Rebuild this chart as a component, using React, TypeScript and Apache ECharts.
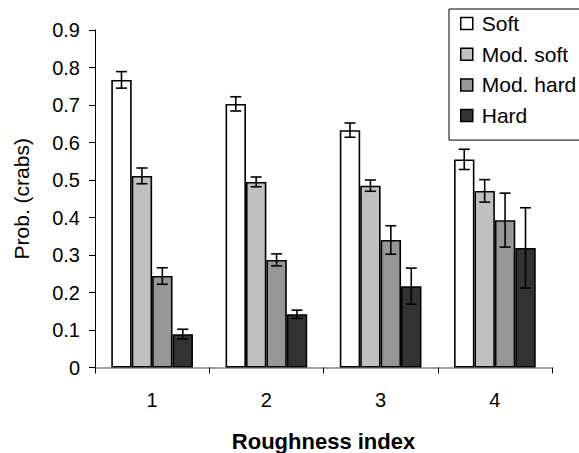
import React, { useEffect, useRef } from "react";
import * as echarts from "echarts";

const categories = ["1", "2", "3", "4"];
const seriesNames = ["Soft", "Mod. soft", "Mod. hard", "Hard"];
const softValues = [0.767, 0.703, 0.633, 0.555];
const softErrors = [0.022, 0.019, 0.019, 0.027];
const modSoftValues = [0.511, 0.495, 0.485, 0.471];
const modSoftErrors = [0.021, 0.013, 0.015, 0.03];
const modHardValues = [0.244, 0.287, 0.34, 0.393];
const modHardErrors = [0.022, 0.016, 0.038, 0.072];
const hardValues = [0.089, 0.142, 0.217, 0.319];
const hardErrors = [0.013, 0.011, 0.048, 0.107];
const colors = ["#ffffff", "#c0c0c0", "#969696", "#333333"];

const FONT = '"Liberation Sans", Arial, sans-serif';
const CAT_GAP = 0.285;

export default function App() {
  const ref = useRef<HTMLDivElement>(null);
  useEffect(() => {
    if (!ref.current) return;
    const chart = echarts.init(ref.current, null, { renderer: "svg" });
    const values = [softValues, modSoftValues, modHardValues, hardValues];
    const errors = [softErrors, modSoftErrors, modHardErrors, hardErrors];

    const barSeries = values.map((vals, i) => ({
      name: seriesNames[i],
      type: "bar",
      data: vals,
      barGap: "0%",
      barCategoryGap: CAT_GAP * 100 + "%",
      itemStyle: { color: colors[i], borderColor: "#000", borderWidth: 1.6 },
      z: 2,
    }));

    const errSeries = values.map((vals, i) => ({
      name: seriesNames[i] + " err",
      type: "custom",
      z: 5,
      data: vals.map((v, k) => [k, v, errors[i][k]]),
      encode: { x: 0, y: 1 },
      renderItem: (params: any, api: any) => {
        const ci = api.value(0);
        const v = api.value(1);
        const e = api.value(2);
        const band = api.size([1, 0])[0];
        const bw = (band * (1 - CAT_GAP)) / 4;
        const c = api.coord([ci, v]);
        const x = c[0] + (i - 1.5) * bw;
        const top = api.coord([ci, v + e])[1];
        const bot = api.coord([ci, v - e])[1];
        const hw = 5.5;
        const st = { stroke: "#000", lineWidth: 1.6 };
        return {
          type: "group",
          children: [
            { type: "line", shape: { x1: x, y1: top, x2: x, y2: bot }, style: st },
            { type: "line", shape: { x1: x - hw, y1: top, x2: x + hw, y2: top }, style: st },
            { type: "line", shape: { x1: x - hw, y1: bot, x2: x + hw, y2: bot }, style: st },
          ],
        };
      },
    }));

    chart.setOption({
      animation: false,
      backgroundColor: "#ffffff",
      textStyle: { fontFamily: FONT },
      grid: { left: 95, right: 27, top: 30, bottom: 85.5, containLabel: false, outerBoundsMode: "none" },
      legend: {
        data: seriesNames,
        orient: "vertical",
        left: 449,
        top: 9,
        itemWidth: 12,
        itemHeight: 12,
        itemGap: 9.7,
        icon: "rect",
        padding: [4, 10, 14, 11],
        borderColor: "#000",
        borderWidth: 1,
        itemStyle: { borderColor: "#000", borderWidth: 1.5 },
        textStyle: {
          fontFamily: FONT,
          fontSize: 21,
          color: "#000",
          lineHeight: 21,
          padding: [0, 0, 0, 4],
        },
      },
      xAxis: {
        type: "category",
        data: categories,
        name: "Roughness index",
        nameLocation: "middle",
        nameGap: 63,
        nameTextStyle: { fontFamily: FONT, fontSize: 22, fontWeight: "bold", color: "#000" },
        axisLine: { lineStyle: { color: "#808080", width: 1.5 } },
        axisTick: { show: true, length: 6, lineStyle: { color: "#000", width: 1 } },
        axisLabel: { fontFamily: FONT, fontSize: 20, color: "#000", margin: 22 },
        splitLine: { show: false },
      },
      yAxis: {
        type: "value",
        min: 0,
        max: 0.9,
        interval: 0.1,
        name: "Prob. (crabs)",
        nameLocation: "middle",
        nameRotate: 90,
        nameGap: 63,
        nameTextStyle: { fontFamily: FONT, fontSize: 21, color: "#000" },
        axisLine: { show: true, lineStyle: { color: "#000", width: 1 } },
        axisTick: { show: true, length: 6, lineStyle: { color: "#000", width: 1 } },
        axisLabel: { fontFamily: FONT, fontSize: 20, color: "#000", margin: 15 },
        splitLine: { show: false },
      },
      series: [...barSeries, ...errSeries],
    });
    return () => chart.dispose();
  }, []);
  return (
    <div
      ref={ref}
      style={{ position: "absolute", left: 0, top: 0, width: 579, height: 453 }}
    />
  );
}
